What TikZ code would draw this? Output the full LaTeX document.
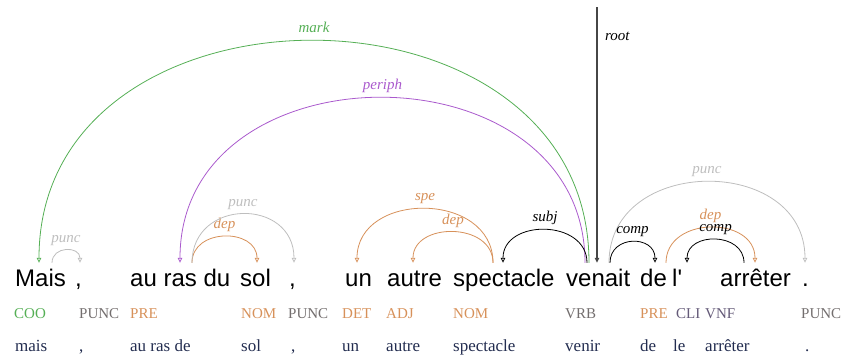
\documentclass[tikz,border=0pt]{standalone}
\usepackage{fontspec}
\setmainfont{Liberation Serif}
\newfontfamily\wordfont{Liberation Sans}
\usetikzlibrary{arrows.meta}
\definecolor{markgreen}{RGB}{85,175,85}
\definecolor{periphpurple}{RGB}{170,90,205}
\definecolor{deporange}{RGB}{215,145,90}
\definecolor{puncgray}{RGB}{190,190,190}
\definecolor{taggray}{RGB}{115,110,110}
\definecolor{tagpurple}{RGB}{100,90,120}
\definecolor{lemmablue}{RGB}{35,45,80}
\definecolor{rootgray}{RGB}{70,70,70}

\begin{document}
\begin{tikzpicture}[x=1pt,y=-1pt,
    word/.style={anchor=base west, inner sep=0pt, text height=23pt,
      font=\wordfont\fontsize{24}{24}\selectfont},
    tag/.style={anchor=base west, inner sep=0pt, font=\fontsize{15}{15}\selectfont},
    lemma/.style={anchor=base west, inner sep=0pt, text=lemmablue,
      font=\fontsize{17}{17}\selectfont},
    arc/.style={line width=0.8pt, -{Triangle[open,length=5pt,width=4.5pt]}},
    greenarc/.style={arc, color=markgreen},
    purplearc/.style={arc, color=periphpurple},
    orangearc/.style={arc, color=deporange},
    grayarc/.style={arc, color=puncgray},
    blackarc/.style={arc, color=black},
    lab/.style={anchor=base, yshift=8pt, inner sep=0pt,
      font=\itshape\fontsize{15}{15}\selectfont}]
  \useasboundingbox (0,0) rectangle (844,356);

  % words
  \foreach \n/\x/\w in {mais/15/Mais, ca/75/{,}, auras/130/au ras du, sol/240/sol,
      cb/289/{,}, un/345/un, autre/387/autre, spectacle/453/spectacle,
      venait/566/venait, de/640/de, le/672/l', arreter/720/arrêter, pt/802/.}
    \node[word] (\n) at (\x,286) {\w};

  % tags
  \foreach \n/\x/\t/\c in {1/14/COO/markgreen, 2/79/PUNC/taggray, 3/130/PRE/deporange,
      4/241/NOM/deporange, 5/288/PUNC/taggray, 6/342/DET/deporange,
      7/386/ADJ/deporange, 8/453/NOM/deporange, 9/565/VRB/taggray,
      10/640/PRE/deporange, 11/676/CLI/tagpurple, 12/705/VNF/tagpurple,
      13/801/PUNC/taggray}
    \node[tag, text=\c] (t\n) at (\x,318) {\t};

  % lemmas
  \foreach \n/\x/\l in {1/15/mais, 2/79/{,}, 3/130/au ras de, 4/241/sol, 5/291/{,},
      6/342/un, 7/386/autre, 8/453/spectacle, 9/565/venir, 10/640/de,
      11/673/le, 12/705/arrêter, 13/805/.}
    \node[lemma] (l\n) at (\x,351) {\l};

  % root
  \coordinate (roottop) at (597,7);
  \draw[line width=1.6pt, rootgray, -{Triangle[open,length=5pt,width=4.5pt]}]
    (roottop) -- ([xshift=31pt]venait.north west)
    node[pos=0.113, anchor=west, xshift=4pt, black, font=\itshape\fontsize{15}{15}\selectfont] {root};

  % dependencies
  \draw[greenarc] ([xshift=23pt]venait.north west) .. controls +(0,-296) and +(0,-296) ..
    ([xshift=24pt]mais.north west) node[pos=0.5, lab] {mark};
  \draw[purplearc] ([xshift=19pt]venait.north west) .. controls +(0,-220) and +(0,-220) ..
    ([xshift=50pt]auras.north west) node[pos=0.5, lab] {periph};
  \draw[grayarc] ([xshift=37pt]mais.north west) .. controls +(0,-17) and +(0,-17) ..
    ([xshift=5pt]ca.north west) node[pos=0.5, lab] {punc};
  \draw[orangearc] ([xshift=62pt]auras.north west) .. controls +(0,-35) and +(0,-35) ..
    ([xshift=17pt]sol.north west) node[pos=0.5, lab] {dep};
  \draw[grayarc] ([xshift=62pt]auras.north west) .. controls +(0,-65) and +(0,-65) ..
    ([xshift=5pt]cb.north west) node[pos=0.5, lab] {punc};
  \draw[orangearc] ([xshift=40pt]spectacle.north west) .. controls +(0,-72) and +(0,-72) ..
    ([xshift=12pt]un.north west) node[pos=0.5, lab] {spe};
  \draw[orangearc] ([xshift=40pt]spectacle.north west) .. controls +(0,-41) and +(0,-41) ..
    ([xshift=26pt]autre.north west) node[pos=0.5, lab] {dep};
  \draw[blackarc] ([xshift=21pt]venait.north west) .. controls +(0,-44) and +(0,-44) ..
    ([xshift=50pt]spectacle.north west) node[pos=0.5, lab] {subj};
  \draw[grayarc] ([xshift=43pt]venait.north west) .. controls +(0,-108) and +(0,-108) ..
    ([xshift=3pt]pt.north west) node[pos=0.5, lab] {punc};
  \draw[blackarc] ([xshift=44pt]venait.north west) .. controls +(0,-28) and +(0,-28) ..
    ([xshift=15pt]de.north west) node[pos=0.5, lab] {comp};
  \draw[orangearc] ([xshift=26pt]de.north west) .. controls +(0,-47) and +(0,-47) ..
    ([xshift=35pt]arreter.north west) node[pos=0.5, lab] {dep};
  \draw[blackarc] ([xshift=24pt]arreter.north west) .. controls +(0,-31) and +(0,-31) ..
    ([xshift=15pt]le.north west) node[pos=0.5, lab] {comp};
\end{tikzpicture}
\end{document}
